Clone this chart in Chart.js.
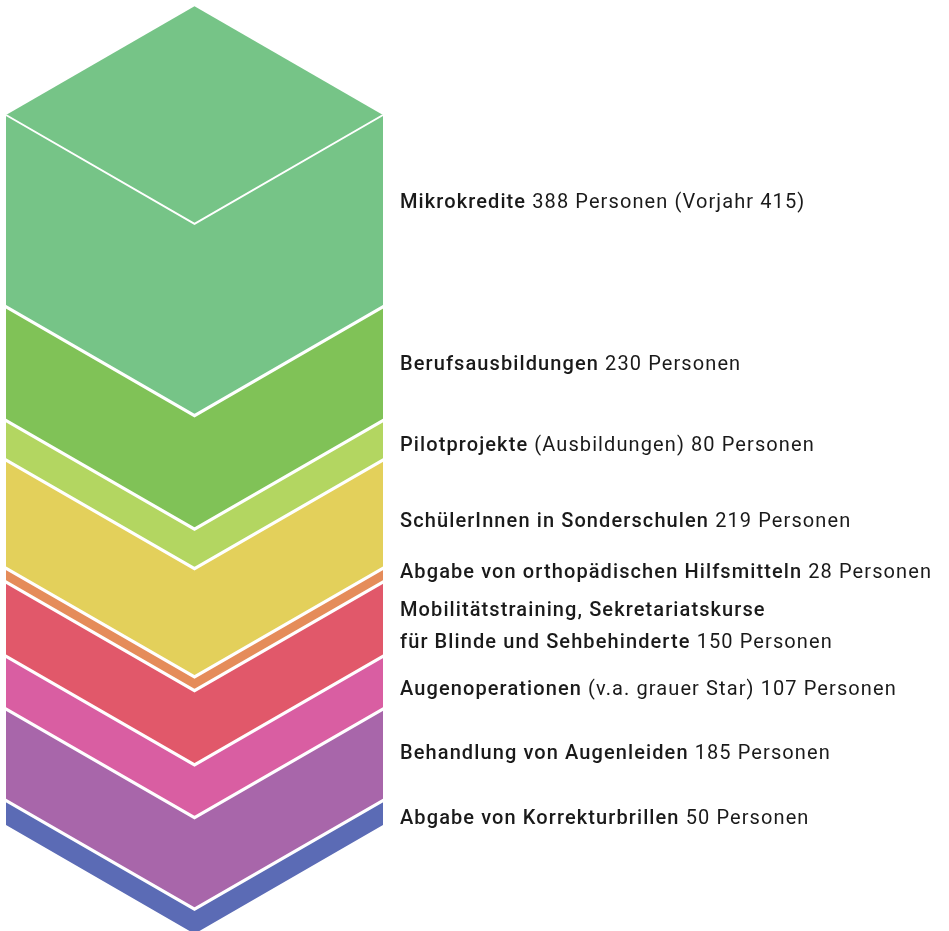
<!DOCTYPE html>
<html lang="de">
<head>
    <meta charset="UTF-8">
    <title>Projekte und Personen</title>
    <script src="https://cdn.jsdelivr.net/npm/chart.js"></script>
    <style>
        html, body { margin: 0; padding: 0; background: #ffffff; }
        #wrap { width: 949px; height: 931px; }
    </style>
</head>
<body>
    <div id="wrap">
        <canvas id="stackChart" width="949" height="931"></canvas>
    </div>

    <script>
        // Layers, listed top to bottom as in the picture
        const names = [
            'Mikrokredite',
            'Berufsausbildungen',
            'Pilotprojekte',
            'SchülerInnen in Sonderschulen',
            'Abgabe von orthopädischen Hilfsmitteln',
            'Mobilitätstraining, Sekretariatskurse\nfür Blinde und Sehbehinderte',
            'Augenoperationen',
            'Behandlung von Augenleiden',
            'Abgabe von Korrekturbrillen'
        ];
        const notes = ['', '', '(Ausbildungen)', '', '', '', '(v.a. grauer Star)', '', ''];
        const persons = [388, 230, 80, 219, 28, 150, 107, 185, 50];
        const priorYear = [415, null, null, null, null, null, null, null, null];
        const colors = [
            '#76c487', '#80c257', '#b3d661', '#e3d05b', '#e58c5a',
            '#e1586a', '#d95ea2', '#a866aa', '#5b6bb5'
        ];

        const total = persons.reduce((a, b) => a + b, 0);

        // small vertical tweaks for the label rows (px, relative to layer middle)
        const labelShift = [-8, 1, 6, 8, -2, 8, 8, -1, 6];

        // Chart.js stacks the first dataset at the bottom, so reverse
        const datasets = persons.map((v, i) => ({
            label: names[i],
            data: [v],
            backgroundColor: 'rgba(0,0,0,0)',
            borderWidth: 0,
            layerIndex: i
        })).reverse();

        const isoPlugin = {
            id: 'isoStack',
            afterDraw(chart) {
                const ctx = chart.ctx;
                const metas = chart.getSortedVisibleDatasetMetas();
                const layers = metas.map(m => {
                    const el = m.data[0];
                    return {
                        idx: chart.data.datasets[m.index].layerIndex,
                        left: el.x - el.width / 2,
                        right: el.x + el.width / 2,
                        mid: el.x,
                        top: Math.min(el.y, el.base),
                        bottom: Math.max(el.y, el.base)
                    };
                }).sort((a, b) => a.idx - b.idx);

                const first = layers[0];
                const depth = (first.right - first.left) / 2 * Math.tan(Math.PI / 6);

                ctx.save();

                // faces of every layer (chevron band)
                layers.forEach(l => {
                    ctx.beginPath();
                    ctx.moveTo(l.left, l.top);
                    ctx.lineTo(l.mid, l.top + depth);
                    ctx.lineTo(l.right, l.top);
                    ctx.lineTo(l.right, l.bottom);
                    ctx.lineTo(l.mid, l.bottom + depth);
                    ctx.lineTo(l.left, l.bottom);
                    ctx.closePath();
                    ctx.fillStyle = colors[l.idx];
                    ctx.fill();
                });

                // top face of the column
                ctx.beginPath();
                ctx.moveTo(first.left, first.top);
                ctx.lineTo(first.mid, first.top - depth);
                ctx.lineTo(first.right, first.top);
                ctx.lineTo(first.mid, first.top + depth);
                ctx.closePath();
                ctx.fillStyle = colors[first.idx];
                ctx.fill();

                // white edges
                ctx.strokeStyle = '#ffffff';
                ctx.lineJoin = 'miter';
                ctx.lineWidth = 2;
                ctx.beginPath();
                ctx.moveTo(first.left, first.top);
                ctx.lineTo(first.mid, first.top + depth);
                ctx.lineTo(first.right, first.top);
                ctx.stroke();

                ctx.lineWidth = 3.2;
                layers.slice(1).forEach(l => {
                    ctx.beginPath();
                    ctx.moveTo(l.left - 2, l.top - 1);
                    ctx.lineTo(l.mid, l.top + depth);
                    ctx.lineTo(l.right + 2, l.top - 1);
                    ctx.stroke();
                });

                // labels on the right
                const boldFont = '500 20px Roboto, "Noto Sans", sans-serif';
                const normFont = '400 20px Roboto, "Noto Sans", sans-serif';
                const lineGap = 32;
                const textX = first.right + 17;
                ctx.letterSpacing = '1.1px';
                ctx.fillStyle = '#1a1a1a';
                ctx.textBaseline = 'middle';
                ctx.textAlign = 'left';

                layers.forEach(l => {
                    const i = l.idx;
                    const rows = names[i].split('\n');
                    let tail = '';
                    if (notes[i]) tail += ' ' + notes[i];
                    tail += ' ' + persons[i] + ' Personen';
                    if (priorYear[i]) tail += ' (Vorjahr ' + priorYear[i] + ')';

                    const cy = (l.top + l.bottom) / 2 + labelShift[i];
                    let y = cy - (rows.length - 1) * lineGap / 2;
                    rows.forEach((r, k) => {
                        ctx.font = boldFont;
                        ctx.fillText(r, textX, y);
                        if (k === rows.length - 1) {
                            const w = ctx.measureText(r).width;
                            ctx.font = normFont;
                            ctx.fillText(tail, textX + w, y);
                        }
                        y += lineGap;
                    });
                });

                ctx.restore();
            }
        };

        const ctx = document.getElementById('stackChart').getContext('2d');
        new Chart(ctx, {
            type: 'bar',
            data: {
                labels: ['Personen'],
                datasets: datasets
            },
            options: {
                responsive: false,
                animation: false,
                layout: {
                    padding: { top: 115, bottom: 106, left: 6, right: 566 }
                },
                datasets: {
                    bar: { barPercentage: 1, categoryPercentage: 1 }
                },
                scales: {
                    x: { stacked: true, display: false },
                    y: { stacked: true, display: false, min: 0, max: total }
                },
                plugins: {
                    legend: { display: false },
                    tooltip: { enabled: false }
                }
            },
            plugins: [isoPlugin]
        });
    </script>
</body>
</html>
